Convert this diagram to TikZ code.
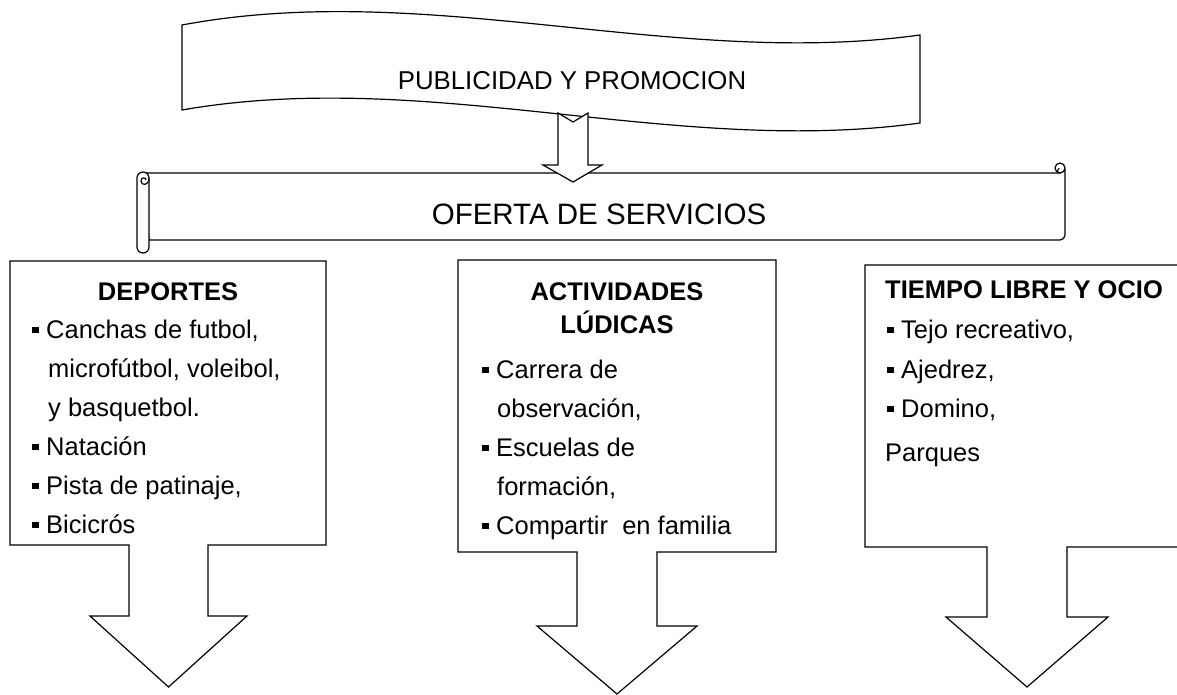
\documentclass[tikz,border=0pt]{standalone}
\usepackage{fontspec}
\setmainfont{Liberation Sans}
\newcommand\bul{\raisebox{5pt}{\rule{6.5pt}{6.5pt}}\hspace{7.5pt}}
\begin{document}
\begin{tikzpicture}[x=1pt,y=-1pt,
  shp/.style={draw=black,line width=1.2pt,fill=white,line join=miter},
  txt/.style={anchor=base west,inner sep=0pt,font=\fontsize{25.5}{30}\selectfont},
  ttl/.style={anchor=base,inner sep=0pt,font=\fontsize{25.5}{30}\selectfont\bfseries}]
\clip (0,0) rectangle (1177,695);
\fill[white] (0,0) rectangle (1177,695);
% wave banner
\draw[shp] (182,25) .. controls (428,-21) and (674,69) .. (920,35) -- (920,123)
   .. controls (674,157) and (428,67) .. (182,110) -- cycle;
\node[anchor=base,inner sep=0pt,font=\fontsize{25.8}{30}\selectfont] (pub) at (572,90) {PUBLICIDAD Y PROMOCION};
% scroll
\draw[shp] (143,173) -- (1060,173) -- (1065,170) -- (1065,235) arc[start angle=0,end angle=90,radius=5] -- (149,240) -- cycle;
\draw[shp] (137,178) -- (137,247) arc[start angle=180,end angle=0,radius=6] -- (149,178)
   arc[start angle=0,end angle=-180,radius=6] -- cycle;
\draw[line width=1.2pt] (149,178) .. controls (149,186) and (141,186) .. (141,181) .. controls (141,177) and (146,177) .. (146,180);
\draw[shp] (1060,168) circle[radius=5];
\draw[line width=1pt] (1060,173) arc[start angle=90,end angle=250,radius=2.5];
\node[anchor=base,inner sep=0pt,font=\fontsize{29.5}{34}\selectfont] (oferta) at (599,224) {OFERTA DE SERVICIOS};
% top arrow
\draw[shp] (558,113) -- (573,122) -- (588,113) -- (588,165) -- (602,165) -- (573,182) -- (543,165) -- (558,165) -- cycle;
% callout boxes
\draw[shp] (10,261) -- (326,261) -- (326,545) -- (208,545) -- (208,616) -- (247,616) -- (168.5,687) -- (90,616) -- (129,616) -- (129,545) -- (10,545) -- cycle;
\draw[shp] (458,260) -- (776,260) -- (776,552) -- (657,552) -- (657,626) -- (697,626) -- (617,694) -- (537,626) -- (577,626) -- (577,552) -- (458,552) -- cycle;
\draw[shp] (865,265) -- (1190,265) -- (1190,547) -- (1067,547) -- (1067,617) -- (1108,617) -- (1027,687) -- (946,617) -- (987,617) -- (987,547) -- (865,547) -- cycle;
% left texts
\node[ttl] (dt) at (168,300) {DEPORTES};
\node[txt] (d1) at (32,338) {\bul Canchas de futbol,};
\node[txt] (d2) at (48,377) {microfútbol, voleibol,};
\node[txt] (d3) at (48,416) {y basquetbol.};
\node[txt] (d4) at (32,455) {\bul Natación};
\node[txt] (d5) at (32,494) {\bul Pista de patinaje,};
\node[txt] (d6) at (32,533) {\bul Bicicrós};
% middle texts
\node[ttl] (at1) at (617,300) {ACTIVIDADES};
\node[ttl] (at2) at (617,333) {LÚDICAS};
\node[txt] (a1) at (482,378) {\bul Carrera de};
\node[txt] (a2) at (497,417) {observación,};
\node[txt] (a3) at (482,456) {\bul Escuelas de};
\node[txt] (a4) at (497,495) {formación,};
\node[txt] (a5) at (482,534) {\bul Compartir\ \ en familia};
% right texts
\node[txt,font=\fontsize{25.5}{30}\selectfont\bfseries] (tt) at (885,298) {TIEMPO LIBRE Y OCIO};
\node[txt] (t1) at (887,338) {\bul Tejo recreativo,};
\node[txt] (t2) at (887,378) {\bul Ajedrez,};
\node[txt] (t3) at (887,417) {\bul Domino,};
\node[txt] (t4) at (885,461) {Parques};
\end{tikzpicture}
\end{document}
